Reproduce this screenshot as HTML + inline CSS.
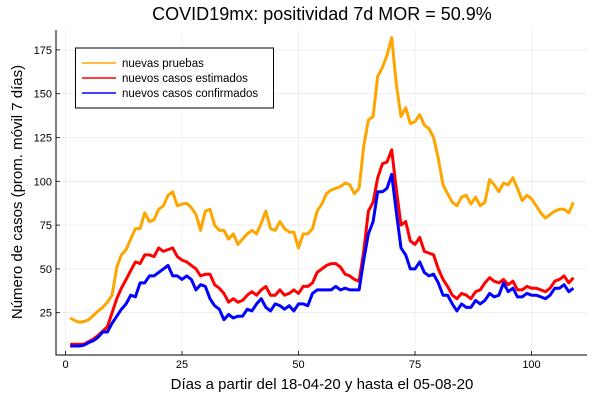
<!DOCTYPE html>
<html><head><meta charset="utf-8"><style>
body{margin:0;background:#fff}
svg{font-family:"Liberation Sans",sans-serif}
</style></head><body>
<svg width="600" height="400">
<rect x="0" y="0" width="600" height="400" fill="#fff"/>
<text x="322" y="20" font-size="18" text-anchor="middle" fill="#000">COVID19mx: positividad 7d MOR = 50.9%</text>
<g id="grid"></g>
<g id="axes"></g>
<g id="series"></g>
<text x="322" y="389" font-size="15" text-anchor="middle">Días a partir del 18-04-20 y hasta el 05-08-20</text>
<text transform="translate(22,192) rotate(-90)" font-size="15" text-anchor="middle">Número de casos (prom. móvil 7 días)</text>
<g>
<rect x="75.5" y="48" width="198" height="60" fill="#fff" stroke="#000" stroke-width="1"/>
<line x1="82" y1="63" x2="116" y2="63" stroke="#FFA500" stroke-width="1.5"/>
<text x="122" y="67" font-size="11.5">nuevas pruebas</text>
<line x1="82" y1="78" x2="116" y2="78" stroke="#FF0000" stroke-width="1.5"/>
<text x="122" y="82" font-size="11.5">nuevos casos estimados</text>
<line x1="82" y1="93" x2="116" y2="93" stroke="#0000FF" stroke-width="1.5"/>
<text x="122" y="97" font-size="11.5">nuevos casos confirmados</text>
</g>
</svg>
<script>
const xTicks=[0,25,50,75,100];
const yTicks=[25,50,75,100,125,150,175];
const pruebas=[22,20.5,19.5,20,21,23.5,26,28,31,35,51,58,61,67,73,73,82,77,78,84,86,92,94,86,87,87.5,85,81,72,83,84,75,72,72,67,70,64,67,70,72,70,76,83,73,72,77,73,71,71,62,70,70,73,83,87,93,95,96,97,99,98,93,96,120,135,137,160,165,172,182,155,137,142,133,134,138,132,130,125,113,98,93,88,86,91,92,87,91,86,88,101,98,94,99,98,102,96,89,92,90,86,82,79,81,83,84,84,82,88];
const estimados=[7,7,7,7,8.5,10,12,14.5,17,25,33,39,44,49,54,53,58,58,57,62,60,61,62,57,55,54,52,50,46,47,47,41,39,36,31,33,31,32,35,37,35,38,40,35,35,38,35,36,38,36,40,40,42,48,50,52,53,53,51,47,46,44,43,60,83,88,102,110,111,118,95,75,77,66,64,68,60,59,58,50,44,40,35,33,36,35,33,37,38,42,45,43,42,44,41,43,38,38,40,39,39,38,37,39,43,44,46,42,45];
const confirmados=[6,6,6,6.5,8,9,11,14,14,19,23,27,30,35,34,42,42,46,46,48,50,52,46,46,44,46,44,38,41,40,33,29,27,21,24,22,23,23,27,26,30,33,28,26,30,29,27,29,26,30,30,29,36,38,38,38,38,40,38,39,38,38,38,55,70,77,94,94,96,104,82,62,58,50,50,54,48,46,47,42,35,35,30,26,30,28,28,32,30,32,36,34,35,42,37,39,34,34,36,35,35,34,33,35,39,39,41,37,39];
const X0=56,X1=587,Y0=30,Y1=355;
const xs=v=>65.5+v*4.66;
const ys=v=>356.5-v*1.752;
const NS='http://www.w3.org/2000/svg';
const grid=document.getElementById('grid'),axes=document.getElementById('axes'),ser=document.getElementById('series');
function mk(tag,attrs,parent){const e=document.createElementNS(NS,tag);for(const k in attrs)e.setAttribute(k,attrs[k]);parent.appendChild(e);return e;}
xTicks.forEach(t=>{
 const g=mk('line',{x1:xs(t),x2:xs(t),y1:Y0,y2:Y1,stroke:'#000','stroke-opacity':0.1,'stroke-width':0.6},grid);
 
 
 const tk=mk('line',{x1:xs(t),x2:xs(t),y1:Y1,y2:Y1-4,stroke:'#000','stroke-width':0.8},axes);
 
 
 const l=mk('text',{x:xs(t),y:Y1+13,'font-size':11,'text-anchor':'middle'},axes);l.textContent=t;
 
 
});
yTicks.forEach(t=>{
 const g=mk('line',{x1:X0,x2:X1,y1:ys(t),y2:ys(t),stroke:'#000','stroke-opacity':0.1,'stroke-width':0.6},grid);
 
 
 const tk=mk('line',{x1:X0,x2:X0+4,y1:ys(t),y2:ys(t),stroke:'#000','stroke-width':0.8},axes);
 
 
 const l=mk('text',{x:X0-4,y:ys(t)+4,'font-size':11,'text-anchor':'end'},axes);l.textContent=t;
 
 
});
const ax=mk('path',{d:`M${X0},${Y0}V${Y1}H${X1}`,fill:'none',stroke:'#000','stroke-width':1},axes);


function line(arr,color,name){
 const d=arr.map((v,i)=>(i?'L':'M')+xs(i+1).toFixed(1)+','+ys(v).toFixed(1)).join('');
 const p=mk('path',{d,fill:'none',stroke:color,'stroke-width':3,'stroke-linejoin':'round'},ser);
 
 
}
line(pruebas,'#FFA500','line-nuevas-pruebas');
line(estimados,'#FF0000','line-casos-estimados');
line(confirmados,'#0000FF','line-casos-confirmados');
</script>
</body></html>
